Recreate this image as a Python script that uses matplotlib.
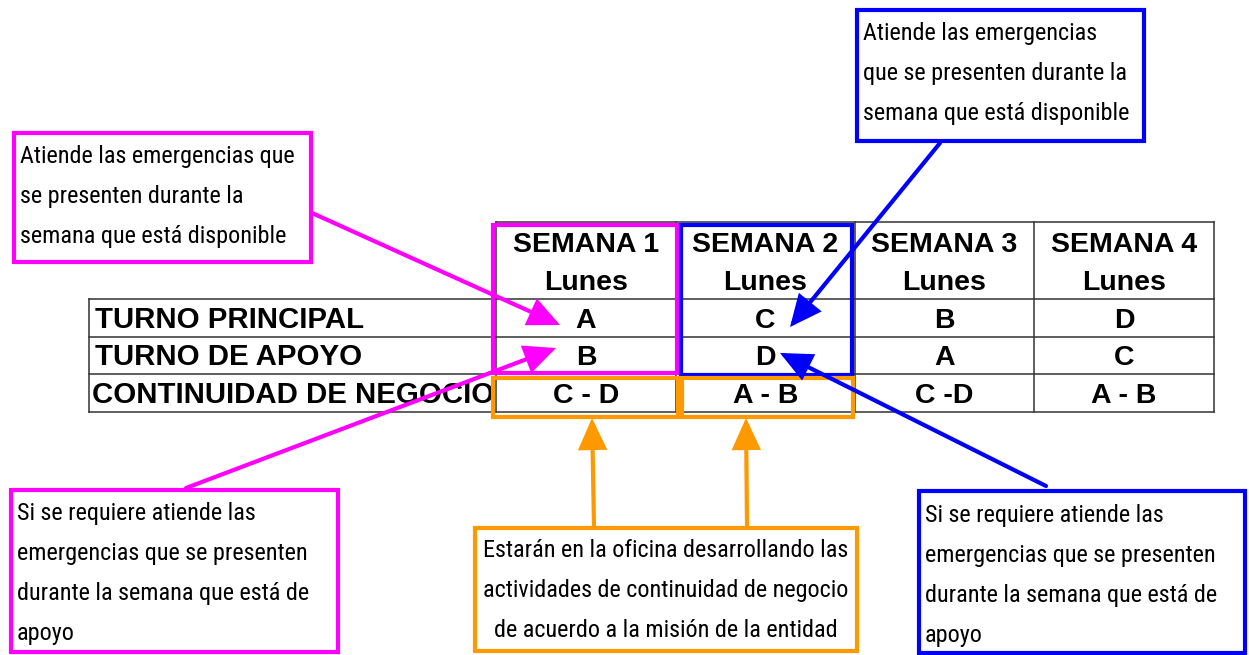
import matplotlib
matplotlib.use("Agg")
import matplotlib.pyplot as plt
from matplotlib.patches import Rectangle, FancyArrowPatch
from matplotlib import font_manager as fm

# ---------------- data ----------------
weeks = ["SEMANA 1", "SEMANA 2", "SEMANA 3", "SEMANA 4"]
day_label = "Lunes"
row_labels = ["TURNO PRINCIPAL", "TURNO DE APOYO", "CONTINUIDAD DE NEGOCIO"]
turno_principal = ["A", "C", "B", "D"]
turno_apoyo = ["B", "D", "A", "C"]
continuidad = ["C - D", "A - B", "C -D", "A - B"]

note_tl = ["Atiende las emergencias que", "se presenten durante la", "semana que está disponible"]
note_tr = ["Atiende las emergencias", "que se presenten durante la", "semana que está disponible"]
note_bl = ["Si se requiere atiende las", "emergencias que se presenten",
           "durante la semana que está de", "apoyo"]
note_br = ["Si se requiere atiende las", "emergencias que se presenten",
           "durante la semana que está de", "apoyo"]
note_bm = ["Estarán en la oficina desarrollando las",
           "actividades de continuidad de negocio",
           "de acuerdo a la misión de la entidad"]

MAG = "#FF00FF"
BLUE = "#0000FF"
ORANGE = "#FF9900"

# ---------------- pick a narrow font if one exists ----------------
def find_narrow():
    prefs = ["Liberation Sans Narrow", "Arial Narrow", "Roboto Condensed",
             "Open Sans Condensed", "Noto Sans Condensed", "DejaVu Sans Condensed"]
    fl = fm.fontManager.ttflist
    def regular(f):
        return f.style == "normal" and f.weight in (400, "normal", "regular", "book")
    for p in prefs:
        for f in fl:
            if f.name == p and regular(f):
                return fm.FontProperties(fname=f.fname), p
    for f in fl:
        st = str(f.stretch).lower()
        if regular(f) and (("condensed" in st and "semi" not in st and "extra" not in st)
                           or "Narrow" in f.name or "Condensed" in f.fname):
            if any(k in f.name for k in ("Sans", "Roboto", "Lato", "Inter")):
                return fm.FontProperties(fname=f.fname), f.name
    return None, None

narrow_fp, narrow_name = find_narrow()

fig = plt.figure(figsize=(12.49, 6.55), dpi=100)
ax = fig.add_axes([0, 0, 1, 1])
ax.set_xlim(0, 1249)
ax.set_ylim(655, 0)
ax.axis("off")

BOLD = dict(family=["Liberation Sans", "DejaVu Sans"], weight="bold", fontsize=20.5)
BOLD_ROW = dict(family=["Liberation Sans", "DejaVu Sans"], weight="bold", fontsize=21.2)

def note_kw():
    if narrow_fp is not None:
        fp = narrow_fp.copy()
        fp.set_size(17.4)
        return dict(fontproperties=fp)
    return dict(family=["Liberation Sans", "DejaVu Sans"], fontsize=15.4)

NOTE = note_kw()

# ---------------- table ----------------
col_x = [496, 676, 855, 1034, 1214]
left_x = 89
row_y = [222, 299, 337, 374, 412]
gl = dict(color="#333333", lw=1.1, zorder=2)

ax.plot([col_x[0], col_x[-1]], [row_y[0], row_y[0]], **gl)
for y in row_y[1:]:
    ax.plot([left_x, col_x[-1]], [y, y], **gl)
ax.plot([left_x, left_x], [row_y[1], row_y[-1]], **gl)
for x in col_x:
    ax.plot([x, x], [row_y[0], row_y[-1]], **gl)

baselines_hdr = [252, 290]
for i, w in enumerate(weeks):
    cx = (col_x[i] + col_x[i + 1]) / 2
    ax.text(cx, baselines_hdr[0], w, ha="center", va="baseline", zorder=3, **BOLD)
    ax.text(cx, baselines_hdr[1], day_label, ha="center", va="baseline", zorder=3, **BOLD)

row_base = [328, 365, 403]
for r, vals in enumerate([turno_principal, turno_apoyo, continuidad]):
    for i, v in enumerate(vals):
        cx = (col_x[i] + col_x[i + 1]) / 2
        ax.text(cx, row_base[r], v, ha="center", va="baseline", zorder=3, **BOLD)
    t = ax.text(left_x + 6 if r < 2 else left_x + 3, row_base[r], row_labels[r],
                ha="left", va="baseline", zorder=3, **BOLD_ROW)
    t.set_clip_path(Rectangle((left_x, row_y[r + 1]), col_x[0] - 4 - left_x, 40,
                              transform=ax.transData))

# ---------------- highlight boxes ----------------
def box(x0, y0, x1, y1, color, lw=3.0, z=4, fill=False):
    ax.add_patch(Rectangle((x0, y0), x1 - x0, y1 - y0, fill=fill,
                           facecolor="white", edgecolor=color, lw=lw, zorder=z))

box(493, 225, 677, 373, MAG)
box(681, 225, 852, 375, BLUE)
box(493, 378, 678, 417, ORANGE)
box(682, 378, 853, 417, ORANGE)

# ---------------- note boxes ----------------
def note(x0, y0, x1, y1, color, lines, tx, base0, ha="left"):
    box(x0, y0, x1, y1, color, z=5, fill=True)
    for k, s in enumerate(lines):
        ax.text(tx, base0 + 40 * k, s, ha=ha, va="baseline", zorder=6,
                color="black", **NOTE)

note(14, 133, 311, 262, MAG, note_tl, 20, 163)
note(857, 10, 1144, 141, BLUE, note_tr, 863, 40)
note(11, 490, 338, 652, MAG, note_bl, 17, 520)
note(475, 528, 857, 651, ORANGE, note_bm, 666, 557, ha="center")
note(919, 491, 1245, 653, BLUE, note_br, 925, 522)

# ---------------- arrows ----------------
def arrow(p0, p1, color):
    a = FancyArrowPatch(p0, p1, arrowstyle="-|>,head_length=1.2,head_width=0.55",
                        mutation_scale=15, color=color, lw=3.0,
                        shrinkA=0, shrinkB=0, zorder=7, joinstyle="miter")
    ax.add_patch(a)

arrow((312, 213), (560, 325), MAG)
arrow((186, 488), (556, 348), MAG)
arrow((940, 143), (790, 327), BLUE)
arrow((1046, 486), (780, 353), BLUE)
arrow((594, 526), (592, 418), ORANGE)
arrow((747, 526), (746, 418), ORANGE)

fig.savefig("out.png", dpi=100)
